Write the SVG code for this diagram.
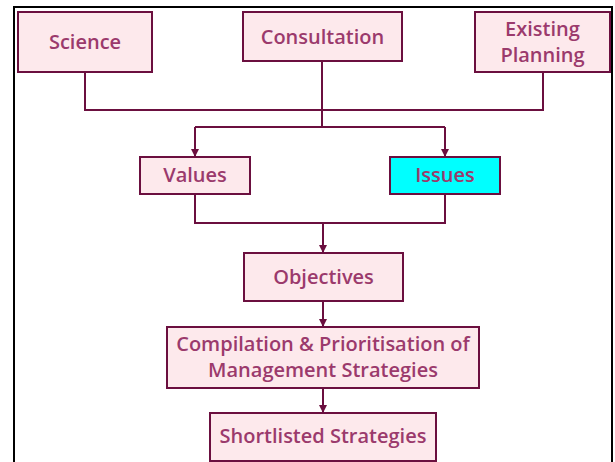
<svg xmlns="http://www.w3.org/2000/svg" width="615" height="462" viewBox="0 0 615 462">
<defs>
<marker id="ah" viewBox="0 0 10 10" refX="10" refY="5" markerWidth="8" markerHeight="8" markerUnits="userSpaceOnUse" orient="auto">
<path d="M0,0 L10,5 L0,10 z" fill="#6B0F3F"/>
</marker>
<style>
.box{fill:#FDE9EC;stroke:#6B0F3F;stroke-width:2}
.cyan{fill:#00FFFF;stroke:#6B0F3F;stroke-width:2}
.t{font-family:"Open Sans",sans-serif;font-size:20px;font-weight:600;fill:#9B3A6C;text-anchor:middle}
.c{fill:none;stroke:#6B0F3F;stroke-width:2}
</style>
</defs>
<rect x="0" y="0" width="615" height="462" fill="#fff"/>
<rect x="14" y="7" width="598" height="470" fill="none" stroke="#000" stroke-width="2"/>
<g id="connectors">
<path class="c" d="M85,72 V110 H543 V72"/>
<path class="c" d="M322,61 V127"/>
<path class="c" d="M195,127 H445"/>
<path class="c" d="M195,127 V157" marker-end="url(#ah)"/>
<path class="c" d="M445,127 V157" marker-end="url(#ah)"/>
<path class="c" d="M195,194 V223 H445 V194"/>
<path class="c" d="M323,223 V253" marker-end="url(#ah)"/>
<path class="c" d="M323,301 V327" marker-end="url(#ah)"/>
<path class="c" d="M323,388 V413" marker-end="url(#ah)"/>
</g>
<g id="science"><rect class="box" x="18" y="12" width="134" height="60"/><text class="t" x="85" y="48.5">Science</text></g>
<g id="consultation"><rect class="box" x="243" y="12" width="159" height="49"/><text class="t" x="322.5" y="43.5">Consultation</text></g>
<g id="existing"><rect class="box" x="475" y="12" width="135" height="60"/><text class="t" x="542.5" y="36">Existing</text><text class="t" x="542.5" y="61.5">Planning</text></g>
<g id="values"><rect class="box" x="140" y="157" width="110" height="37"/><text class="t" x="195" y="182">Values</text></g>
<g id="issues"><rect class="cyan" x="390" y="157" width="110" height="37"/><text class="t" x="445" y="182">Issues</text></g>
<g id="objectives"><rect class="box" x="244" y="253" width="159" height="48"/><text class="t" x="323.5" y="284">Objectives</text></g>
<g id="compilation"><rect class="box" x="167" y="327" width="312" height="61"/><text class="t" x="323" y="351">Compilation &amp; Prioritisation of</text><text class="t" x="323" y="376.5">Management Strategies</text></g>
<g id="shortlisted"><rect class="box" x="210" y="413" width="226" height="48"/><text class="t" x="323" y="443">Shortlisted Strategies</text></g>
</svg>
